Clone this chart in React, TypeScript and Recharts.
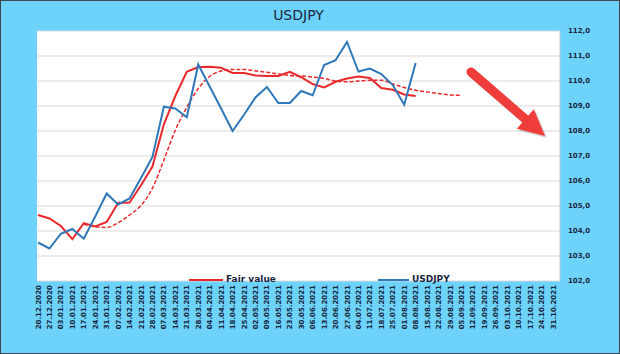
import React from 'react';
import { LineChart, Line, XAxis, YAxis, CartesianGrid, Legend } from 'recharts';

const dates = [
  '20.12.2020', '27.12.2020', '03.01.2021', '10.01.2021', '17.01.2021', '24.01.2021', '31.01.2021',
  '07.02.2021', '14.02.2021', '21.02.2021', '28.02.2021', '07.03.2021', '14.03.2021', '21.03.2021',
  '28.03.2021', '04.04.2021', '11.04.2021', '18.04.2021', '25.04.2021', '02.05.2021', '09.05.2021',
  '16.05.2021', '23.05.2021', '30.05.2021', '06.06.2021', '13.06.2021', '20.06.2021', '27.06.2021',
  '04.07.2021', '11.07.2021', '18.07.2021', '25.07.2021', '01.08.2021', '08.08.2021', '15.08.2021',
  '22.08.2021', '29.08.2021', '05.09.2021', '12.09.2021', '19.09.2021', '26.09.2021', '03.10.2021',
  '10.10.2021', '17.10.2021', '24.10.2021', '31.10.2021',
];

const usdjpy = [
  103.54, 103.3, 103.89, 104.08, 103.69, 104.58, 105.5, 105.06, 105.3, 106.12, 106.96, 108.97,
  108.9, 108.55, 110.66, 109.78, 108.9, 108.0, 108.65, 109.34, 109.76, 109.12, 109.12, 109.6,
  109.43, 110.64, 110.83, 111.56, 110.38, 110.5, 110.28, 109.84, 109.05, 110.72,
];

const fairValue = [
  104.64, 104.5, 104.2, 103.67, 104.31, 104.18, 104.36, 105.12, 105.14, 105.83, 106.58, 108.27,
  109.4, 110.37, 110.56, 110.57, 110.53, 110.32, 110.32, 110.22, 110.2, 110.2, 110.37, 110.15,
  109.88, 109.74, 109.97, 110.1, 110.18, 110.12, 109.72, 109.65, 109.46, 109.4,
];

// trend (dashed) starts at 17.01.2021
const trendStart = 4;
const trend = [
  104.27, 104.17, 104.14, 104.33, 104.64, 105.02, 105.71, 106.84, 108.03, 108.95, 109.7, 110.18,
  110.4, 110.46, 110.46, 110.4, 110.35, 110.28, 110.22, 110.2, 110.16, 110.1, 110.0, 109.97,
  110.0, 110.03, 110.03, 109.88, 109.74, 109.63, 109.56, 109.5, 109.44, 109.43,
];

const yTicks = [102, 103, 104, 105, 106, 107, 108, 109, 110, 111, 112];

const data = dates.map((d, i) => ({
  date: d,
  usdjpy: i < usdjpy.length ? usdjpy[i] : null,
  fair: i < fairValue.length ? fairValue[i] : null,
  trend: i >= trendStart && i - trendStart < trend.length ? trend[i - trendStart] : null,
}));

const RED = '#e8282b';
const BLUE = '#2f78b9';
const TEXT = '#1b2740';
const FONT = '"DejaVu Sans", Verdana, sans-serif';

const XTick = (props: any) => {
  const { x, y, payload } = props;
  return (
    <text
      x={x}
      y={y}
      transform={`rotate(-90, ${x}, ${y})`}
      textAnchor="end"
      dy="0.36em"
      fontSize={7}
      fontWeight="bold"
      fontFamily={FONT}
      fill={TEXT}
    >
      {payload.value}
    </text>
  );
};

const LegendContent = () => (
  <div style={{ position: 'relative', width: 620, height: 16, fontFamily: FONT }}>
    <div style={{ position: 'absolute', left: 189, top: 7, width: 34, height: 2, background: RED }} />
    <span style={{ position: 'absolute', left: 226, top: 1, fontSize: 9, fontWeight: 'bold', color: TEXT, lineHeight: '12px' }}>
      Fair value
    </span>
    <div style={{ position: 'absolute', left: 378, top: 7, width: 31, height: 2, background: BLUE }} />
    <span style={{ position: 'absolute', left: 412, top: 1, fontSize: 9, fontWeight: 'bold', color: TEXT, lineHeight: '12px' }}>
      USDJPY
    </span>
  </div>
);

const Arrow = () => {
  const T = [471, 72];
  const P = [545, 136];
  const dx = P[0] - T[0];
  const dy = P[1] - T[1];
  const len = Math.sqrt(dx * dx + dy * dy);
  const d = [dx / len, dy / len];
  const n = [-d[1], d[0]];
  const H = 26;
  const W = 13;
  const B = [P[0] - d[0] * H, P[1] - d[1] * H];
  const head = [
    [B[0] + n[0] * W, B[1] + n[1] * W],
    P,
    [B[0] - n[0] * W, B[1] - n[1] * W],
  ];
  const pts = (o: number) => head.map((p) => `${p[0] + o},${p[1] + o}`).join(' ');
  return (
    <svg width={620} height={354} style={{ position: 'absolute', left: 0, top: 0, pointerEvents: 'none' }}>
      <g opacity={0.25}>
        <line x1={T[0] + 2} y1={T[1] + 2} x2={B[0] + 2} y2={B[1] + 2} stroke="#555" strokeWidth={9} strokeLinecap="round" />
        <polygon points={pts(2)} fill="#555" />
      </g>
      <line x1={T[0]} y1={T[1]} x2={B[0] + d[0] * 2} y2={B[1] + d[1] * 2} stroke="#ee3d3a" strokeWidth={9} strokeLinecap="round" />
      <polygon points={pts(0)} fill="#ee3d3a" />
    </svg>
  );
};

export default function App() {
  return (
    <div style={{ position: 'fixed', left: 0, top: 0, width: 620, height: 354, background: '#6dd3fb', overflow: 'hidden' }}>
      <div
        style={{
          position: 'absolute',
          left: 0,
          width: 597,
          top: 6,
          textAlign: 'center',
          fontFamily: FONT,
          fontSize: 14,
          color: TEXT,
          lineHeight: '18px',
        }}
      >
        USDJPY
      </div>
      <div style={{ position: 'absolute', left: 0, top: 0 }}>
        <LineChart width={620} height={354} data={data} margin={{ top: 31, right: 10, bottom: 0, left: 37 }}>
          <CartesianGrid horizontal vertical={false} stroke="#d9d9d9" fill="#ffffff" />
          <XAxis
            dataKey="date"
            type="category"
            interval={0}
            padding={{ left: 1, right: 7 }}
            axisLine={false}
            tickLine={false}
            tickSize={0}
            tickMargin={4}
            height={57}
            tick={<XTick />}
          />
          <YAxis
            orientation="right"
            domain={[102, 112]}
            ticks={yTicks}
            interval={0}
            width={50}
            axisLine={{ stroke: '#c8c8c8' }}
            tickLine={false}
            tickFormatter={(v: number) => v.toFixed(1).replace('.', ',')}
            tick={{ fontSize: 7, fontWeight: 'bold', fontFamily: FONT, fill: TEXT }}
          />
          <Legend
            content={<LegendContent />}
            wrapperStyle={{ position: 'absolute', left: 0, top: 272, width: 620, height: 16 }}
          />
          <Line
            dataKey="trend"
            name="Trend"
            type="monotone"
            stroke={RED}
            strokeWidth={1.5}
            strokeDasharray="4 2"
            dot={false}
            isAnimationActive={false}
            connectNulls={false}
            legendType="none"
          />
          <Line
            dataKey="fair"
            name="Fair value"
            type="linear"
            stroke={RED}
            strokeWidth={2}
            dot={false}
            isAnimationActive={false}
          />
          <Line
            dataKey="usdjpy"
            name="USDJPY"
            type="linear"
            stroke={BLUE}
            strokeWidth={2}
            dot={false}
            isAnimationActive={false}
          />
        </LineChart>
      </div>
      <Arrow />
      <div style={{ position: 'absolute', left: 0, top: 0, width: 620, height: 354, boxSizing: 'border-box', border: '1px solid #3d4652', pointerEvents: 'none' }} />
    </div>
  );
}
